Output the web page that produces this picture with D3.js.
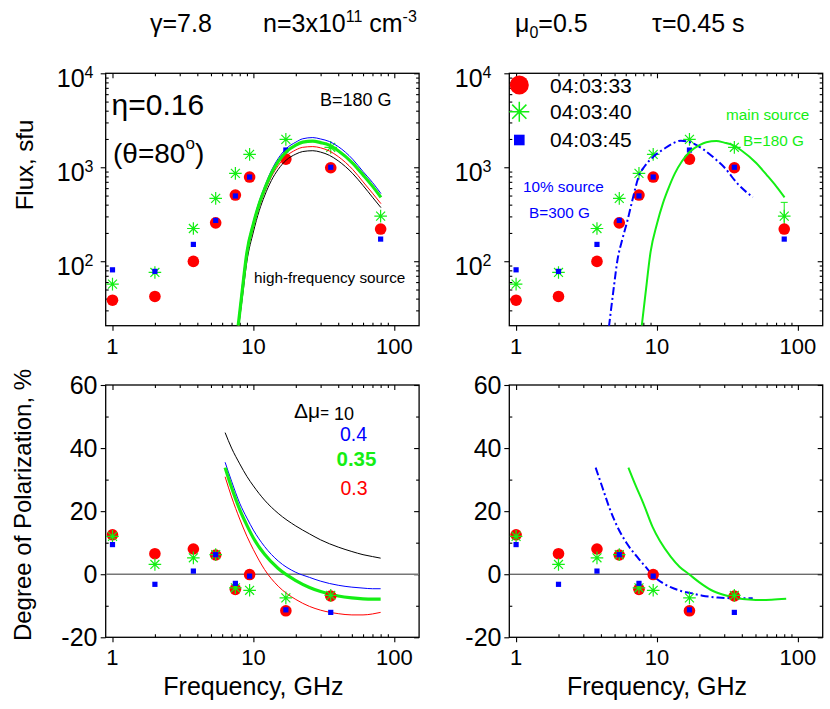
<!DOCTYPE html>
<html><head><meta charset="utf-8">
<script src="https://cdn.jsdelivr.net/npm/d3@7/dist/d3.min.js"></script>
<style>
body{margin:0;background:#fff}
svg{display:block}
text{font-family:"Liberation Sans",Arial,Helvetica,sans-serif;fill:#000}
</style>
</head><body>
<svg id="c" width="830" height="709"></svg>
<script>
// ---------------- data ----------------
const freqs = [1, 2, 3.75, 5.4, 7.45, 9.4, 17, 35.4, 80];
const flux0333 = [38.5, 42.2, 99.6, 256, 506, 787, 1222, 988, 220];
const flux0340 = [57, 76, 223, 467, 861, 1371, 1982, 1630, 302];
const flux0345 = [81, 78, 151, 272, 495, 787, 1525, 1000, 172];
const errFreq = [80];
const errLow = [220];
const errHigh = [423];

const polFreqs = [1, 2, 3.75, 5.4, 7.45, 9.4, 17, 35.4];
const pol0333 = [12.5, 6.5, 8.0, 6.1, -4.8, -0.1, -11.6, -6.9];
const pol0340 = [12.0, 3.1, 5.2, 6.2, -4.3, -5.1, -7.5, -6.7];
const pol0345 = [9.4, -3.2, 1.0, 6.2, -2.9, -0.6, -11.3, -12.1];

// high-frequency source model spectra (top-left)
const modelFreq = [7.8, 8.3, 9, 10, 11, 12, 13.4, 15, 17.1, 20, 22.4, 26.4, 30, 34.6, 40, 50.6, 60, 70, 80.4];
const fluxBlue  = [21.5, 52, 132, 265, 435, 620, 920, 1240, 1580, 1850, 2010, 2070, 2000, 1880, 1660, 1220, 900, 690, 525];
const fluxGreen = [20.6, 46, 125, 250, 410, 585, 860, 1150, 1460, 1720, 1850, 1900, 1830, 1720, 1500, 1110, 830, 630, 478];
const fluxRed   = [19.5, 42, 112, 228, 378, 540, 790, 1040, 1310, 1530, 1630, 1660, 1610, 1490, 1300, 950, 700, 530, 410];
const fluxBlack = [18.5, 38, 100, 205, 345, 495, 720, 950, 1190, 1380, 1470, 1500, 1450, 1340, 1170, 860, 640, 480, 372];

// 10% source (top-right, dash-dot)
const srcFreq = [4.56, 4.9, 5.23, 5.7, 6.17, 6.7, 7.4, 8.2, 9.4, 11.2, 13, 14.8, 17, 21.6, 26, 30, 37.4, 47.8];
const srcFlux = [20, 48, 101, 175, 271, 450, 790, 1030, 1290, 1567, 1800, 1920, 1860, 1530, 1220, 1000, 665, 480];

// polarization models (bottom-left)
const polModelFreq = [6.3, 7, 8, 9, 10, 12, 15, 20, 25, 30, 40, 50, 60, 70, 80];
const polBlack = [44.9, 40.0, 35.0, 31.0, 28.0, 23.5, 19.3, 15.3, 12.8, 10.9, 8.6, 7.2, 6.2, 5.6, 5.1];
const polBlue  = [35.5, 29.5, 22.5, 17.8, 14.0, 8.8, 4.2, 0.6, -1.0, -2.2, -3.5, -4.1, -4.4, -4.6, -4.6];
const polGreen = [33.8, 27.5, 20.5, 15.5, 11.5, 6.3, 1.8, -2.0, -4.2, -5.5, -6.9, -7.5, -7.8, -7.9, -7.9];
const polRed   = [30.9, 24.5, 17.5, 12.0, 7.8, 1.5, -3.8, -8.0, -10.2, -11.4, -12.5, -12.9, -12.9, -12.6, -12.1];

// polarization (bottom-right)
const polMainFreq = [6.27, 7, 8, 9.3, 10.5, 12.5, 14.5, 16.9, 20, 24.2, 30, 37.4, 45, 54.8, 65, 82.6];
const polMain     = [33.8, 28.5, 22.5, 15.0, 10.5, 5.6, 2.3, 0, -2.6, -5.0, -6.6, -7.6, -8.0, -8.2, -8.1, -7.8];
const polSrcFreq = [3.67, 4.1, 4.6, 5.23, 6.1, 7.26, 8.2, 9.29, 10.8, 12.5, 14.8, 17.4, 21, 27, 35, 47.8];
const polSrc     = [33.8, 27.5, 21.0, 15.1, 9.8, 5.4, 2.6, -0.2, -2.6, -4.1, -5.3, -6.0, -6.8, -7.4, -7.6, -7.6];

const xMajor = [1, 10, 100];
const xLabels = ["1", "10", "100"];
const fluxMajor = [100, 1000, 10000];
const fluxExp = ["2", "3", "4"];
const polMajor = [-20, 0, 20, 40, 60];
const polLabels = ["-20", "0", "20", "40", "60"];
const legendNames = ["04:03:33", "04:03:40", "04:03:45"];

// ---------------- layout ----------------
const RED = "#ff0000", GREEN = "#14ee14", BLUE = "#0000ff";
const svg = d3.select("#c");
const W = 313.4;
const LEFTS = [105.7, 509.3];
const TOP = {y0: 73.3, y1: 325.7};
const BOT = {y0: 385, y1: 637.3};

const xMinor = [];
[1, 10, 100].forEach(d => { for (let k = 1; k <= 9; k++) { const v = d * k; if (v > 0.9 && v < 150 && ![1,10,100].includes(v)) xMinor.push(v); } });
const fluxMinor = [];
[10, 100, 1000].forEach(d => { for (let k = 2; k <= 9; k++) { const v = d * k; if (v > 20.6 && v < 10000) fluxMinor.push(v); } });
const polMinor = [-10, 10, 30, 50];

function makeX(left) { return d3.scaleLog().domain([0.895, 150]).range([left, left + W]); }
const yFlux = d3.scaleLog().domain([20.6, 10000]).range([TOP.y1, TOP.y0]);
const yPol = d3.scaleLinear().domain([-20, 60]).range([BOT.y1, BOT.y0]);

let clipId = 0;
function frame(x, y, box, yMaj, yMin) {
  const x0 = x.range()[0], x1 = x.range()[1];
  const g = svg.append("g");
  const style = sel => { sel.select(".domain").remove(); sel.selectAll("line").attr("stroke", "#000").attr("stroke-width", 1.1); };
  g.append("g").attr("transform", `translate(0,${box.y1})`).call(d3.axisBottom(x).tickValues(xMajor).tickSize(5).tickFormat("")).call(style);
  g.append("g").attr("transform", `translate(0,${box.y1})`).call(d3.axisTop(x).tickValues(xMinor).tickSize(3).tickFormat("")).call(style);
  g.append("g").attr("transform", `translate(0,${box.y0})`).call(d3.axisBottom(x).tickValues(xMajor).tickSize(5).tickFormat("")).call(style);
  g.append("g").attr("transform", `translate(0,${box.y0})`).call(d3.axisBottom(x).tickValues(xMinor).tickSize(3).tickFormat("")).call(style);
  g.append("g").attr("transform", `translate(${x0},0)`).call(d3.axisLeft(y).tickValues(yMaj).tickSize(5).tickFormat("")).call(style);
  g.append("g").attr("transform", `translate(${x0},0)`).call(d3.axisRight(y).tickValues(yMin).tickSize(3).tickFormat("")).call(style);
  g.append("g").attr("transform", `translate(${x1},0)`).call(d3.axisLeft(y).tickValues(yMaj).tickSize(5).tickFormat("")).call(style);
  g.append("g").attr("transform", `translate(${x1},0)`).call(d3.axisLeft(y).tickValues(yMin).tickSize(3).tickFormat("")).call(style);
  g.append("rect").attr("x", x0).attr("y", box.y0).attr("width", x1 - x0).attr("height", box.y1 - box.y0)
    .attr("fill", "none").attr("stroke", "#000").attr("stroke-width", 1.3);
  xMajor.forEach((v, i) => {
    svg.append("text").attr("x", x(v)).attr("y", box.y1 + 28).attr("text-anchor", "middle")
      .attr("font-size", 22).text(xLabels[i]);
  });
  const id = "clip" + (clipId++);
  svg.append("clipPath").attr("id", id).append("rect").attr("x", x0).attr("y", box.y0).attr("width", x1 - x0).attr("height", box.y1 - box.y0);
  return svg.append("g").attr("clip-path", `url(#${id})`);
}

function logLabels(x, endX) {
  fluxMajor.forEach((v, i) => {
    const t = svg.append("text").attr("x", endX).attr("y", yFlux(v) + 13.5).attr("text-anchor", "end").attr("font-size", 25);
    t.append("tspan").text("10");
    t.append("tspan").attr("font-size", 16).attr("dy", -8.5).text(fluxExp[i]);
  });
}
function polLabelsDraw(endX) {
  polMajor.forEach((v, i) => {
    svg.append("text").attr("x", endX).attr("y", yPol(v) + 8.8).attr("text-anchor", "end").attr("font-size", 25).text(polLabels[i]);
  });
}

function line(g, x, y, fx, fy, color, width, dash) {
  const gen = d3.line().x((d, i) => x(fx[i])).y((d, i) => y(fy[i])).curve(d3.curveMonotoneX);
  const p = g.append("path").datum(fy).attr("d", gen).attr("fill", "none").attr("stroke", color)
    .attr("stroke-width", width).attr("stroke-linejoin", "round");
  if (dash) p.attr("stroke-dasharray", dash);
  return p;
}

function starPath(r) {
  const d = r * 0.71;
  return `M${-r},0L${r},0M0,${-r}L0,${r}M${-d},${-d}L${d},${d}M${-d},${d}L${d},${-d}`;
}

function points(g, x, y, fx, f1, f2, f3) {
  g.selectAll(null).data(f1).join("circle").attr("cx", (d, i) => x(fx[i])).attr("cy", d => y(d)).attr("r", 5.8).attr("fill", RED);
  g.selectAll(null).data(f2).join("path").attr("transform", (d, i) => `translate(${x(fx[i])},${y(d)})`)
    .attr("d", starPath(6.3)).attr("stroke", GREEN).attr("stroke-width", 1.2).attr("fill", "none");
  g.selectAll(null).data(f3).join("rect").attr("x", (d, i) => x(fx[i]) - 2.6).attr("y", d => y(d) - 2.6)
    .attr("width", 5.2).attr("height", 5.2).attr("fill", BLUE);
}

// ---------------- panels ----------------
const xL = makeX(LEFTS[0]), xR = makeX(LEFTS[1]);

// Top-left
{
  const g = frame(xL, yFlux, TOP, fluxMajor, fluxMinor);
  logLabels(xL, 93.5);
  points(g, xL, yFlux, freqs, flux0333, flux0340, flux0345);
  line(g, xL, yFlux, modelFreq, fluxBlack, "#000", 1);
  line(g, xL, yFlux, modelFreq, fluxRed, RED, 1);
  line(g, xL, yFlux, modelFreq, fluxBlue, BLUE, 1);
  line(g, xL, yFlux, modelFreq, fluxGreen, GREEN, 3.2);
  svg.append("text").attr("x", 111.5).attr("y", 115).attr("font-size", 30).text("η=0.16");
  const t = svg.append("text").attr("x", 113).attr("y", 163).attr("font-size", 28);
  t.append("tspan").text("(θ=80");
  t.append("tspan").attr("font-size", 17).attr("dy", -14).text("o");
  t.append("tspan").attr("dy", 14).text(")");
  svg.append("text").attr("x", 320).attr("y", 106).attr("font-size", 18).text("B=180 G");
  svg.append("text").attr("x", 254).attr("y", 283).attr("font-size", 15.3).text("high-frequency source");
}

// Top-right
{
  const g = frame(xR, yFlux, TOP, fluxMajor, fluxMinor);
  logLabels(xR, 491.5);
  g.selectAll(null).data(errFreq).join("line").attr("x1", d => xR(d)).attr("x2", d => xR(d))
    .attr("y1", (d, i) => yFlux(errHigh[i])).attr("y2", (d, i) => yFlux(errLow[i])).attr("stroke", GREEN).attr("stroke-width", 1);
  g.selectAll(null).data(errFreq).join("line").attr("x1", d => xR(d) - 3.5).attr("x2", d => xR(d) + 3.5)
    .attr("y1", (d, i) => yFlux(errHigh[i])).attr("y2", (d, i) => yFlux(errHigh[i])).attr("stroke", GREEN).attr("stroke-width", 1);
  points(g, xR, yFlux, freqs, flux0333, flux0340, flux0345);
  line(g, xR, yFlux, srcFreq, srcFlux, BLUE, 2, "8,3,2,3");
  line(g, xR, yFlux, modelFreq, fluxGreen, GREEN, 2);
  const lx = 519.3, ly = [85, 111.7, 140];
  svg.append("circle").attr("cx", lx).attr("cy", ly[0]).attr("r", 9.5).attr("fill", RED);
  svg.append("path").attr("transform", `translate(${lx},${ly[1]})`).attr("d", starPath(10)).attr("stroke", GREEN).attr("stroke-width", 1.5).attr("fill", "none");
  svg.append("rect").attr("x", lx - 5.3).attr("y", ly[2] - 5.3).attr("width", 10.6).attr("height", 10.6).attr("fill", BLUE);
  [92.7, 119.3, 147.3].forEach((b, i) => svg.append("text").attr("x", 550).attr("y", b).attr("font-size", 21).text(legendNames[i]));
  svg.append("text").attr("x", 726).attr("y", 120).attr("font-size", 15.3).style("fill", GREEN).text("main source");
  svg.append("text").attr("x", 743).attr("y", 146).attr("font-size", 15.3).style("fill", GREEN).text("B=180 G");
  svg.append("text").attr("x", 523).attr("y", 192).attr("font-size", 15.3).style("fill", BLUE).text("10% source");
  svg.append("text").attr("x", 529).attr("y", 218).attr("font-size", 15.3).style("fill", BLUE).text("B=300 G");
}

// Bottom-left
{
  const g = frame(xL, yPol, BOT, polMajor, polMinor);
  polLabelsDraw(97.5);
  g.append("line").attr("x1", xL.range()[0]).attr("x2", xL.range()[1]).attr("y1", yPol(0)).attr("y2", yPol(0))
    .attr("stroke", "#777").attr("stroke-width", 1.6);
  line(g, xL, yPol, polModelFreq, polBlack, "#000", 1);
  line(g, xL, yPol, polModelFreq, polBlue, BLUE, 1);
  line(g, xL, yPol, polModelFreq, polRed, RED, 1);
  line(g, xL, yPol, polModelFreq, polGreen, GREEN, 3.2);
  points(g, xL, yPol, polFreqs, pol0333, pol0340, pol0345);
  const t = svg.append("text").attr("x", 294).attr("y", 418).attr("font-size", 21);
  t.append("tspan").text("Δμ");
  t.append("tspan").attr("font-size", 15).text("=");
  t.append("tspan").attr("font-size", 18).attr("dy", 2).text(" 10");
  svg.append("text").attr("x", 340).attr("y", 441).attr("font-size", 19.5).style("fill", BLUE).text("0.4");
  svg.append("text").attr("x", 336.5).attr("y", 466).attr("font-size", 20.5).attr("font-weight", "bold").style("fill", GREEN).text("0.35");
  svg.append("text").attr("x", 340.5).attr("y", 495).attr("font-size", 19.5).style("fill", RED).text("0.3");
}

// Bottom-right
{
  const g = frame(xR, yPol, BOT, polMajor, polMinor);
  polLabelsDraw(501.5);
  g.append("line").attr("x1", xR.range()[0]).attr("x2", xR.range()[1]).attr("y1", yPol(0)).attr("y2", yPol(0))
    .attr("stroke", "#333").attr("stroke-width", 1);
  line(g, xR, yPol, polSrcFreq, polSrc, BLUE, 2, "8,3,2,3");
  line(g, xR, yPol, polMainFreq, polMain, GREEN, 2);
  points(g, xR, yPol, polFreqs, pol0333, pol0340, pol0345);
}

// axis titles
svg.append("text").attr("transform", "translate(33,165) rotate(-90)").attr("text-anchor", "middle").attr("font-size", 24).text("Flux, sfu");
svg.append("text").attr("transform", "translate(31,505) rotate(-90)").attr("text-anchor", "middle").attr("font-size", 24).text("Degree of Polarization, %");
svg.append("text").attr("x", xL(10)).attr("y", 695).attr("text-anchor", "middle").attr("font-size", 25).text("Frequency, GHz");
svg.append("text").attr("x", xR(10)).attr("y", 695).attr("text-anchor", "middle").attr("font-size", 25).text("Frequency, GHz");

// title row
{
  const y = 32;
  svg.append("text").attr("x", 150).attr("y", y).attr("font-size", 25).text("γ=7.8");
  const n = svg.append("text").attr("x", 263).attr("y", y).attr("font-size", 25);
  n.append("tspan").text("n=3x10");
  n.append("tspan").attr("font-size", 16).attr("dy", -10).text("11");
  n.append("tspan").attr("dy", 10).text(" cm");
  n.append("tspan").attr("font-size", 16).attr("dy", -10).text("-3");
  const m = svg.append("text").attr("x", 515).attr("y", y).attr("font-size", 25);
  m.append("tspan").text("μ");
  m.append("tspan").attr("font-size", 16).attr("dy", 6).text("0");
  m.append("tspan").attr("dy", -6).text("=0.5");
  svg.append("text").attr("x", 652).attr("y", y).attr("font-size", 25).text("τ=0.45 s");
}
</script>
</body></html>
